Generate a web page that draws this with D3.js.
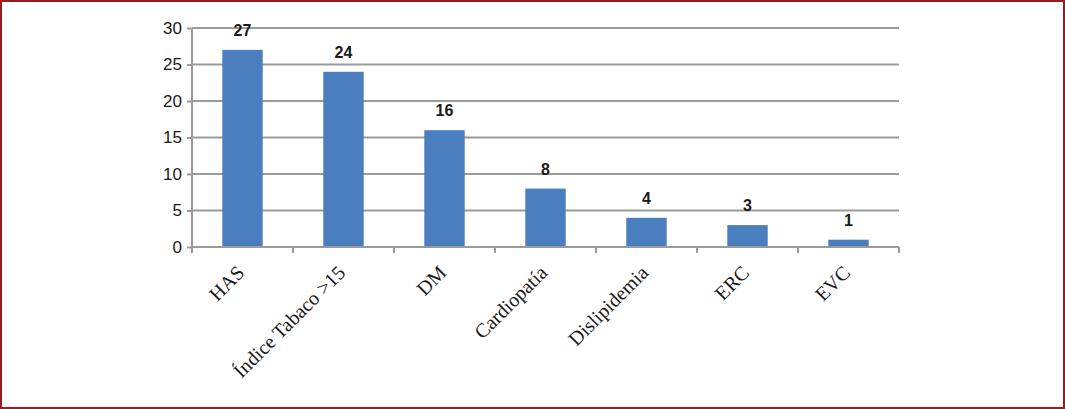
<!DOCTYPE html>
<html>
<head>
<meta charset="utf-8">
<script src="https://cdn.jsdelivr.net/npm/d3@7"></script>
<style>
  body { margin: 0; background: #fff; }
  svg { display: block; }
</style>
</head>
<body>
<div id="chart"></div>
<script>
var categories = ["HAS", "Índice Tabaco >15", "DM", "Cardiopatía", "Dislipidemia", "ERC", "EVC"];
var values = [27, 24, 16, 8, 4, 3, 1];
var yTicks = [0, 5, 10, 15, 20, 25, 30];

var W = 1065, H = 409;
var mLeft = 192, mRight = 899, mTop = 28, mBottom = 247;

var svg = d3.select("#chart").append("svg")
    .attr("width", W)
    .attr("height", H);

// marco
svg.append("rect")
    .attr("x", 1).attr("y", 1)
    .attr("width", W - 2).attr("height", H - 2)
    .attr("fill", "#fff")
    .attr("stroke", "#9b1c20")
    .attr("stroke-width", 2);

var x = d3.scaleBand().domain(categories).range([mLeft, mRight]).paddingInner(0.6).paddingOuter(0.3);
var y = d3.scaleLinear().domain([0, 30]).range([mBottom, mTop]);

// grid
svg.append("g").selectAll("line")
    .data(yTicks.filter(d => d > 0))
    .enter().append("line")
    .attr("x1", mLeft).attr("x2", mRight)
    .attr("y1", d => y(d)).attr("y2", d => y(d))
    .attr("stroke", "#9a9a9a")
    .attr("stroke-width", 2);

// barras
svg.append("g").selectAll("rect")
    .data(values)
    .enter().append("rect")
    .attr("x", (d, i) => x(categories[i]))
    .attr("width", x.bandwidth())
    .attr("y", d => y(d))
    .attr("height", d => y(0) - y(d))
    .attr("fill", "#4a7ebf");

// eje y
var yAxis = svg.append("g")
    .attr("transform", "translate(" + mLeft + ",0)")
    .call(d3.axisLeft(y).tickValues(yTicks).tickSize(5).tickPadding(5));
yAxis.select(".domain").attr("stroke", "#9a9a9a").attr("stroke-width", 2).attr("d", "M0," + mTop + "V" + mBottom);
yAxis.selectAll(".tick line").attr("stroke", "#9a9a9a").attr("stroke-width", 2);
yAxis.selectAll(".tick text")
    .attr("fill", "#1a1a1a")
    .style("font-family", "'Liberation Sans', Arial, sans-serif")
    .style("font-size", "17px");

// eje x
var xAxis = svg.append("g");
xAxis.append("line")
    .attr("x1", mLeft).attr("x2", mRight)
    .attr("y1", mBottom).attr("y2", mBottom)
    .attr("stroke", "#9a9a9a").attr("stroke-width", 2);
xAxis.selectAll("line.tk")
    .data(d3.range(categories.length + 1))
    .enter().append("line")
    .attr("class", "tk")
    .attr("x1", i => mLeft + i * (mRight - mLeft) / categories.length)
    .attr("x2", i => mLeft + i * (mRight - mLeft) / categories.length)
    .attr("y1", mBottom).attr("y2", mBottom + 6)
    .attr("stroke", "#9a9a9a").attr("stroke-width", 2);

xAxis.selectAll("text")
    .data(categories)
    .enter().append("text")
    .attr("transform", d => "translate(" + (x(d) + x.bandwidth() / 2 + 3) + "," + (mBottom + 27) + ") rotate(-45)")
    .attr("text-anchor", "end")
    .attr("fill", "#1a1a1a")
    .style("font-family", "'Liberation Serif', 'DejaVu Serif', serif")
    .style("font-size", "20px")
    .text(d => d);

// etiquetas de valor
svg.append("g").selectAll("text")
    .data(values)
    .enter().append("text")
    .attr("x", (d, i) => x(categories[i]) + x.bandwidth() / 2)
    .attr("y", d => y(d) - 14)
    .attr("text-anchor", "middle")
    .attr("fill", "#1a1a1a")
    .style("font-family", "'Liberation Sans', Arial, sans-serif")
    .style("font-weight", "bold")
    .style("font-size", "16px")
    .text(d => d);
</script>
</body>
</html>
